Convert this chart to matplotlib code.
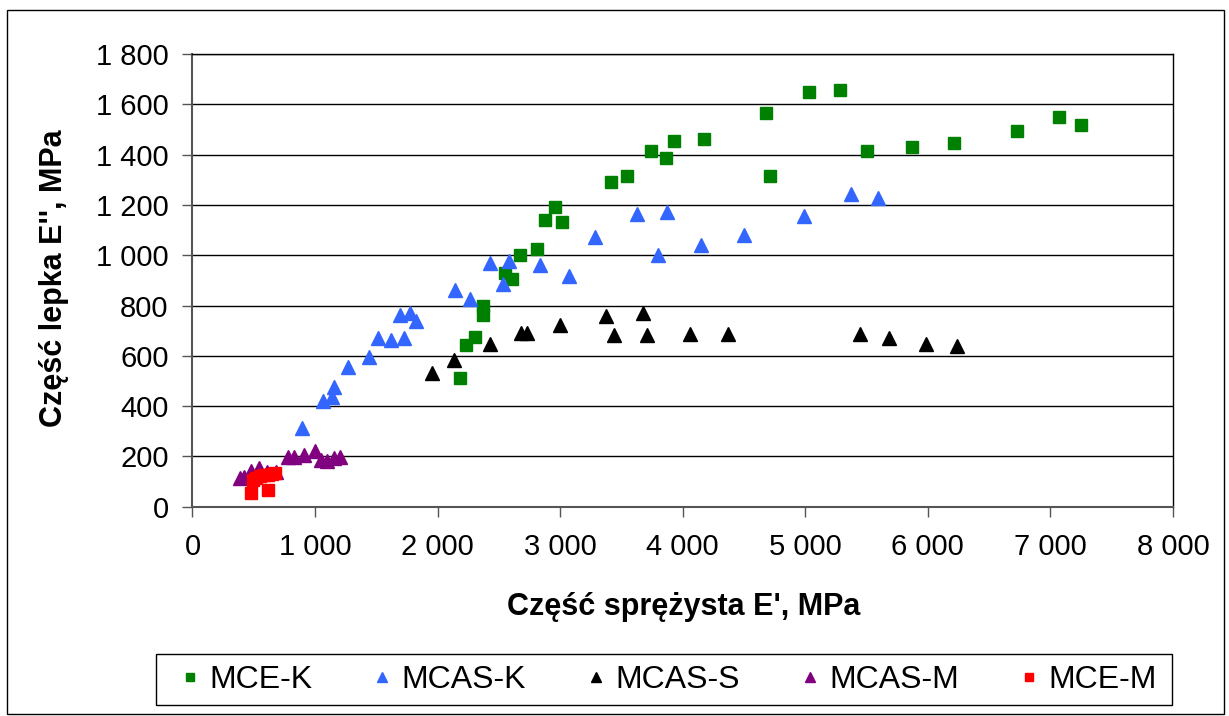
import matplotlib
matplotlib.use("Agg")
import matplotlib.pyplot as plt
from matplotlib.ticker import FuncFormatter, MultipleLocator
from matplotlib.patches import Rectangle

plt.rcParams['font.family'] = ['Liberation Sans', 'DejaVu Sans']

# MCE-K (green squares)
mce_k_x = [2179, 2228, 2307, 2369, 2369, 2546, 2609, 2671, 2813, 2877, 2957, 3019,
           3416, 3542, 3738, 3860, 3931, 4175, 4683, 4716, 5031, 5284, 5507, 5871,
           6216, 6725, 7073, 7247]
mce_k_y = [513, 644, 675, 798, 762, 930, 907, 1000, 1023, 1139, 1193, 1132,
           1292, 1316, 1415, 1387, 1456, 1463, 1564, 1316, 1648, 1656, 1416, 1431,
           1447, 1494, 1548, 1518]

# MCAS-K (blue triangles)
mcas_k_x = [891, 1067, 1135, 1157, 1271, 1442, 1510, 1617, 1728, 1695, 1774, 1823,
            2140, 2266, 2424, 2535, 2582, 2837, 3073, 3281, 3628, 3802, 3868,
            4150, 4501, 4990, 5371, 5594]
mcas_k_y = [312, 421, 437, 477, 554, 594, 670, 663, 670, 762, 771, 740,
            862, 824, 970, 884, 977, 961, 916, 1071, 1164, 1001, 1172,
            1040, 1080, 1157, 1242, 1227]

# MCAS-S (black triangles)
mcas_s_x = [1951, 2137, 2424, 2679, 2728, 2998, 3375, 3441, 3677, 3709, 4058,
            4373, 5450, 5687, 5988, 6235]
mcas_s_y = [530, 583, 646, 692, 692, 722, 759, 683, 769, 683, 685,
            687, 687, 672, 648, 640]

# MCAS-M (purple triangles)
mcas_m_x = [387, 420, 477, 545, 610, 679, 782, 828, 909, 999, 1048, 1094, 1154, 1206]
mcas_m_y = [115, 119, 142, 153, 137, 137, 199, 199, 206, 221, 186, 182, 192, 198]

# MCE-M (red squares)
mce_m_x = [477, 613, 490, 520, 555, 585, 615, 645, 670]
mce_m_y = [53, 66, 105, 116, 122, 125, 128, 130, 134]

series_names = ['MCE-K', 'MCAS-K', 'MCAS-S', 'MCAS-M', 'MCE-M']
x_title = "Część sprężysta E', MPa"
y_title = "Część lepka E'', MPa"

fig = plt.figure(figsize=(12.29, 7.16), dpi=100)
ax = fig.add_axes([0.1566, 0.2923, 0.7978, 0.6323])

ax.set_xlim(0, 8000)
ax.set_ylim(0, 1800)
ax.xaxis.set_major_locator(MultipleLocator(1000))
ax.yaxis.set_major_locator(MultipleLocator(200))

def thousands(v, pos):
    return f"{int(round(v)):,}".replace(",", " ")

ax.xaxis.set_major_formatter(FuncFormatter(thousands))
ax.yaxis.set_major_formatter(FuncFormatter(thousands))

ax.grid(axis='y', color='black', linewidth=1.0, zorder=0)
ax.set_axisbelow(True)
for s in ax.spines.values():
    s.set_color('black')
    s.set_linewidth(1.0)
ax.spines['left'].set_color('#555555')
ax.spines['bottom'].set_color('#555555')
ax.spines['left'].set_linewidth(1.5)
ax.spines['bottom'].set_linewidth(1.5)

ax.tick_params(axis='both', direction='out', length=7.2, width=1, labelsize=21,
               colors='black')
ax.tick_params(axis='x', pad=12)
ax.tick_params(axis='y', pad=10)
ax.tick_params(axis='both', color='#555555')

ax.plot(mce_k_x, mce_k_y, linestyle='none', marker='s', markersize=8,
        color='#008000', markeredgecolor='#008000', label=series_names[0], zorder=3)
ax.plot(mcas_k_x, mcas_k_y, linestyle='none', marker='^', markersize=9.5,
        color='#3366FF', markeredgecolor='#3366FF', label=series_names[1], zorder=3)
ax.plot(mcas_s_x, mcas_s_y, linestyle='none', marker='^', markersize=9.5,
        color='black', markeredgecolor='black', label=series_names[2], zorder=3)
ax.plot(mcas_m_x, mcas_m_y, linestyle='none', marker='^', markersize=9.5,
        color='#800080', markeredgecolor='#800080', label=series_names[3], zorder=3)
ax.plot(mce_m_x, mce_m_y, linestyle='none', marker='s', markersize=8,
        color='#FF0000', markeredgecolor='#FF0000', label=series_names[4], zorder=4)

fig.text(0.5566, 0.152, x_title, fontsize=22, fontweight='bold',
         ha='center', va='center')
fig.text(0.044, 0.612, y_title, fontsize=22, fontweight='bold',
         ha='center', va='center', rotation=90)

# legend frame
fig.patches.append(Rectangle((156 / 1229, 1 - 705 / 716), (1172 - 156) / 1229, 51 / 716,
                             transform=fig.transFigure, fill=False,
                             edgecolor='black', linewidth=1.0))
leg = fig.legend(loc='center', bbox_to_anchor=(0.544, 0.0503),
                 ncol=5, fontsize=23, frameon=False,
                 markerscale=0.7, handletextpad=0.3, borderaxespad=0,
                 handlelength=0.6, columnspacing=1.9)

# figure border
fig.patches.append(Rectangle((0.006, 0.003), 0.99, 0.983, transform=fig.transFigure,
                             fill=False, edgecolor='black', linewidth=1.0))

fig.savefig('out.png', dpi=100)
